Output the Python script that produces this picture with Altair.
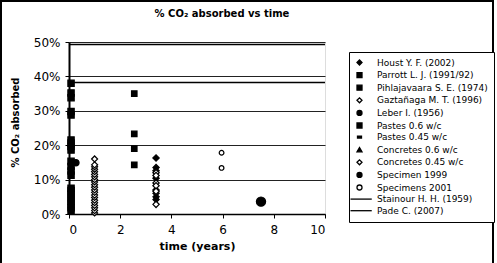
import altair as alt
import pandas as pd

# ---- data ----
series_names = [
    "Houst Y. F. (2002)", "Parrott L. J. (1991/92)", "Pihlajavaara S. E. (1974)",
    "Gaztañaga M. T. (1996)", "Leber I. (1956)", "Pastes 0.6 w/c", "Pastes 0.45 w/c",
    "Concretes 0.6 w/c", "Concretes 0.45 w/c", "Specimen 1999", "Specimens 2001",
    "Stainour H. H. (1959)", "Pade C. (2007)",
]

houst_t = [3.4, 3.4, 3.4, 3.4, 3.4, 3.4, 3.4, 3.4]
houst_v = [16.3, 13.5, 12.6, 10.4, 7.0, 6.0, 5.0, 4.2]

parrott_t = [0.08] * 12
parrott_v = [0.8, 1.8, 2.8, 3.8, 4.8, 5.8, 6.8, 7.5, 11.3, 12.5, 13.8, 15.3]

pihla_t = [2.55, 2.55, 2.55, 2.55]
pihla_v = [35.0, 23.3, 19.0, 14.3]

gazta_t = [1.0] * 21
gazta_v = [0.3, 1.0, 1.8, 2.5, 3.3, 4.0, 4.8, 5.5, 6.3, 7.0, 7.8, 8.5,
           9.3, 10.0, 10.8, 11.5, 12.3, 13.0, 13.7, 14.3, 16.0]

leber_t = [7.5]
leber_v = [3.6]

pastes06_t = [0.08] * 9
pastes06_v = [18.6, 19.6, 20.6, 21.5, 28.8, 29.8, 33.8, 35.2, 38.0]

conc045_t = [3.4, 3.4, 3.4, 3.4, 3.4, 3.4]
conc045_v = [12.0, 11.2, 9.0, 8.2, 6.6, 2.8]

spec1999_t = [0.27]
spec1999_v = [14.9]

spec2001_t = [5.96, 5.96]
spec2001_v = [17.8, 13.4]

stainour_v = [38.2]
pade_v = [49.3]

x_ticks = [0, 2, 4, 6, 8, 10]
y_ticks = [0, 0.1, 0.2, 0.3, 0.4, 0.5]

# ---- styles ----
shapes = ["diamond", "square", "square", "diamond", "circle", "square",
          "M-0.8,-0.35H0.8V0.35H-0.8Z", "triangle-up", "diamond", "circle", "circle",
          "M-3.6,0H4.9", "M-3.6,0H4.9"]
fills = ["black", "black", "black", "white", "black", "black", "black", "black",
         "white", "black", "white", "black", "black"]
strokes = ["black"] * len(series_names)
sizes = {"Houst Y. F. (2002)": 40, "Parrott L. J. (1991/92)": 40,
         "Pihlajavaara S. E. (1974)": 30, "Gaztañaga M. T. (1996)": 36,
         "Leber I. (1956)": 85, "Pastes 0.6 w/c": 40, "Concretes 0.45 w/c": 40,
         "Specimen 1999": 40, "Specimens 2001": 22}

groups = [
    ("Houst Y. F. (2002)", houst_t, houst_v),
    ("Parrott L. J. (1991/92)", parrott_t, parrott_v),
    ("Pihlajavaara S. E. (1974)", pihla_t, pihla_v),
    ("Gaztañaga M. T. (1996)", gazta_t, gazta_v),
    ("Leber I. (1956)", leber_t, leber_v),
    ("Pastes 0.6 w/c", pastes06_t, pastes06_v),
    ("Concretes 0.45 w/c", conc045_t, conc045_v),
    ("Specimen 1999", spec1999_t, spec1999_v),
    ("Specimens 2001", spec2001_t, spec2001_v),
]
rows = []
for name, ts, vs in groups:
    for t, v in zip(ts, vs):
        rows.append({"series": name, "t": t, "v": v / 100.0, "sz": sizes[name]})
df = pd.DataFrame(rows)

rule_df = pd.DataFrame({"series": ["Stainour H. H. (1959)", "Pade C. (2007)"],
                        "v": [stainour_v[0] / 100.0, pade_v[0] / 100.0]})

FONT = "DejaVu Sans"

legend = alt.Legend(
    title=None, orient="none", legendX=280, legendY=10,
    strokeColor="black", padding=6, fillColor="white",
    labelFont=FONT, labelFontSize=9, labelColor="black",
    symbolSize=25, symbolStrokeColor="black", symbolStrokeWidth=1.3,
    labelOffset=13, rowPadding=1.6,
)

x_enc = alt.X("t:Q", scale=alt.Scale(domain=[0, 10], nice=False),
              axis=alt.Axis(title="time (years)", values=x_ticks, grid=False,
                            labelFont=FONT, labelFontSize=12, labelColor="black",
                            titleFont=FONT, titleFontSize=11, titleFontWeight="bold",
                            titleColor="black", titlePadding=5, labelPadding=6,
                            tickSize=4, tickColor="black", domainColor="black",
                            domainWidth=1.5))
y_axis = alt.Axis(title="% CO₂ absorbed", values=y_ticks, format=".0%",
                  grid=True, gridColor="#222", gridWidth=1,
                  labelFont=FONT, labelFontSize=12, labelColor="black",
                  titleFont=FONT, titleFontSize=10, titleFontWeight="bold",
                  titleColor="black", titlePadding=13, labelPadding=5,
                  tickSize=4, tickColor="black", domainColor="black",
                  domainWidth=2, titleY=80)
y_scale = alt.Scale(domain=[0, 0.5], nice=False)

points = alt.Chart(df).mark_point(filled=True, strokeWidth=1.2, opacity=1).encode(
    x=x_enc,
    y=alt.Y("v:Q", scale=y_scale, axis=y_axis),
    shape=alt.Shape("series:N", scale=alt.Scale(domain=series_names, range=shapes),
                    legend=legend),
    fill=alt.Fill("series:N", scale=alt.Scale(domain=series_names, range=fills),
                  legend=legend),
    stroke=alt.Stroke("series:N", scale=alt.Scale(domain=series_names, range=strokes),
                      legend=legend),
    size=alt.Size("sz:Q", scale=None, legend=None),
)

rules = alt.Chart(rule_df).mark_rule(color="black", strokeWidth=1.5).encode(
    y=alt.Y("v:Q", scale=y_scale, axis=y_axis),
)

frame = alt.Chart(rule_df).mark_rect(fill=None, stroke="black", strokeWidth=2).encode(
    x=alt.value(-68), x2=alt.value(424), y=alt.value(-41), y2=alt.value(235),
)

chart = alt.layer(points, rules, frame).properties(
    width=256, height=172,
    title=alt.TitleParams("% CO₂ absorbed vs time", font=FONT, fontSize=10,
                          fontWeight="bold", color="black", anchor="middle",
                          dx=25, offset=0, dy=41 - 22),
    autosize=alt.AutoSizeParams(type="none"),
    padding={"left": 69, "top": 42, "right": 172, "bottom": 49},
).configure_view(stroke=None).configure(background="white")

chart.save("out.html", embed_options={"renderer": "svg", "actions": False})
